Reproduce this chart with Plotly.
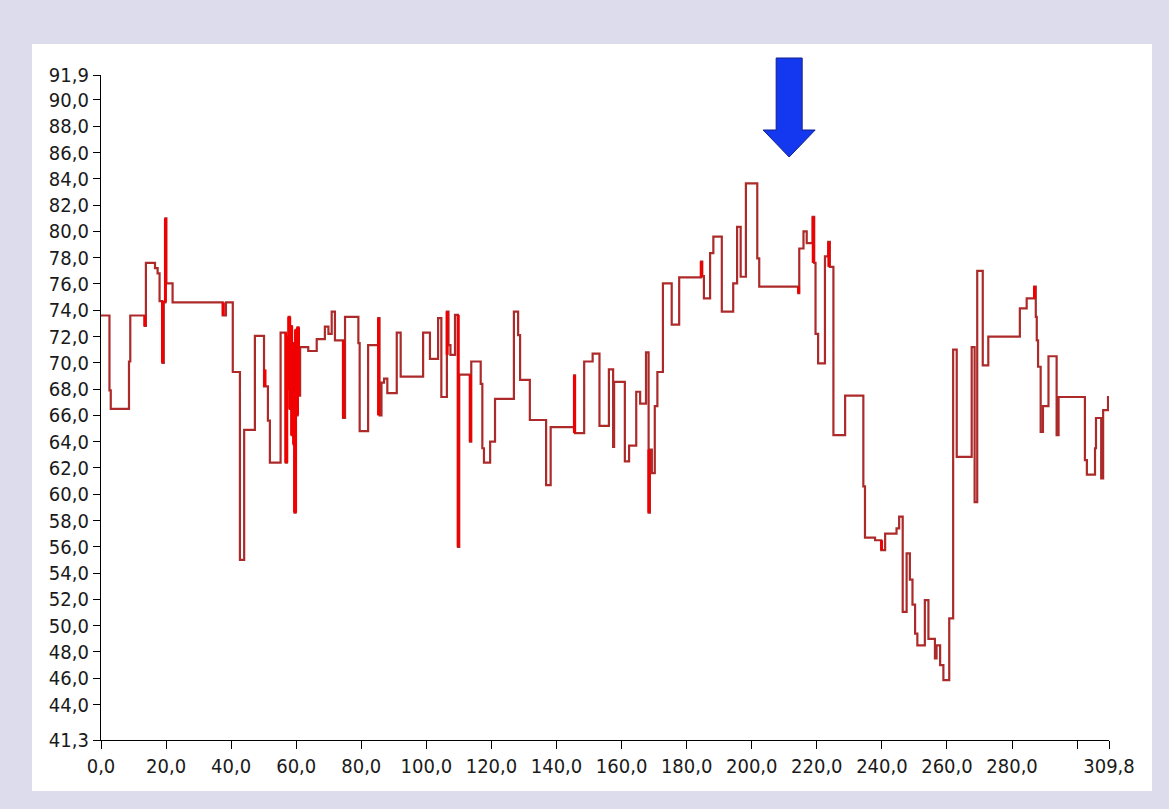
import plotly.graph_objects as go

# ---- step series (x where a level starts, level value) ----
step_x = [0.0, 2.6, 3.0, 8.6, 9.0, 13.4, 13.8, 16.6, 17.4, 18.0, 18.9, 19.3, 19.8, 20.1, 22.0,
          37.4, 38.4, 40.5, 42.7, 44.0, 47.3, 50.1, 51.3, 51.9, 55.2,
          56.8, 57.1, 57.4, 57.7, 58.0, 58.3, 58.6, 58.9, 59.2, 59.5, 59.8, 60.1, 60.4, 60.7,
          61.2, 63.7, 66.3, 68.8, 69.9, 70.9, 71.9, 74.4, 75.0, 79.1, 79.5, 82.1,
          85.2, 85.6, 86.2, 87.0, 88.0, 90.9, 92.1, 99.0, 101.1, 103.6, 104.6, 106.3, 106.8,
          107.4, 108.8, 109.7, 110.1, 113.4, 113.8, 116.7, 117.2, 117.7, 119.6, 121.1, 126.9,
          128.2, 128.8, 131.8, 136.8, 138.2, 145.4, 145.7, 148.5, 151.1, 153.2, 156.1, 157.4,
          157.7, 161.0, 162.3, 164.5, 165.7, 167.5, 168.3, 168.7, 169.3, 170.2, 171.0, 172.7,
          175.4, 177.7, 184.4, 184.8, 185.3, 187.2, 188.2, 190.8, 194.3, 195.5, 196.6, 198.2,
          201.7, 202.3, 214.3, 214.6, 215.9, 216.9, 218.7, 219.2, 219.6, 220.4, 222.5, 223.5,
          224.0, 225.1, 228.7, 234.3, 234.8, 237.9, 239.8, 241.0, 244.5, 245.3, 246.4, 247.6,
          248.6, 249.4, 250.2, 250.9, 253.2, 254.3, 256.3, 256.8, 257.9, 258.9, 260.7, 261.9,
          263.0, 267.6, 268.5, 269.3, 271.0, 272.7, 282.4, 284.5, 286.8, 287.3, 287.6, 288.0,
          288.8, 289.5, 291.2, 293.7, 294.3, 302.4, 303.0, 305.5, 305.8, 307.4, 308.0, 309.5, 309.8]
step_y = [73.6, 67.9, 66.5, 70.1, 73.6, 72.8, 77.6, 77.2, 76.8, 74.7, 70.0, 74.6, 81.0, 76.05, 74.6,
          73.6, 74.6, 69.3, 55.0, 64.9, 72.05, 68.2, 65.6, 62.4, 72.3,
          62.4, 72.0, 68.0, 73.5, 66.5, 72.8, 64.5, 71.5, 63.8, 58.6, 72.5, 66.0, 72.7, 67.5,
          71.2, 70.9, 71.8, 72.75, 72.2, 73.9, 71.7, 65.8, 73.5, 71.5, 64.8, 71.35,
          73.4, 66.0, 68.5, 68.8, 67.7, 72.3, 68.95, 72.3, 70.3, 73.4, 67.4, 73.9, 71.35,
          70.6, 73.65, 56.0, 69.1, 64.0, 70.1, 68.4, 63.5, 62.4, 64.0, 67.25, 73.9,
          72.1, 68.7, 65.65, 60.7, 65.1, 69.05, 64.65, 70.1, 70.7, 65.2, 69.5, 63.6,
          68.55, 62.5, 63.7, 67.8, 66.9, 70.8, 58.6, 63.4, 61.6, 66.7, 69.3, 76.05,
          72.9, 76.5, 77.7, 76.6, 74.9, 78.35, 79.6, 73.9, 76.05, 80.35, 76.55, 83.65,
          77.95, 75.8, 75.3, 78.7, 80.0, 79.1, 81.1, 77.6, 72.2, 69.95, 78.1, 79.2,
          77.3, 64.5, 67.5, 60.6, 56.7, 56.5, 55.75, 57.0, 57.4, 58.3, 51.05, 55.5,
          53.5, 51.6, 49.4, 48.5, 51.95, 49.0, 47.5, 48.5, 47.0, 45.85, 50.55, 71.0,
          62.85, 71.2, 59.4, 77.0, 69.8, 72.0, 74.15, 74.9, 75.8, 73.5, 71.7, 69.7,
          64.75, 66.7, 70.5, 64.5, 67.4, 62.6, 61.5, 63.5, 65.8, 61.2, 66.4, 67.4, 67.4]

# ---- bright red spikes (x, low, high) ----
spike_x = [13.5, 18.9, 19.8, 37.6, 50.4, 56.8, 57.1, 57.4, 57.7, 58.0, 58.3, 58.6, 58.9, 59.2,
           59.5, 59.8, 60.1, 60.4, 60.7, 74.5, 85.3, 106.4, 109.8, 113.5, 145.5, 168.4,
           184.5, 214.4, 218.9, 223.7, 239.9, 286.9]
spike_lo = [72.8, 70.0, 74.6, 73.6, 68.2, 62.4, 62.4, 68.0, 68.0, 66.5, 66.5, 64.5, 64.5, 63.8,
            58.6, 58.6, 66.0, 66.0, 67.5, 65.8, 66.0, 70.6, 56.0, 64.0, 64.65, 58.6,
            76.5, 75.3, 77.6, 77.3, 55.75, 74.9]
spike_hi = [73.6, 74.7, 81.0, 74.6, 69.5, 72.3, 72.0, 72.0, 73.5, 73.5, 72.8, 72.8, 71.5, 71.5,
            63.8, 72.5, 72.5, 72.7, 72.7, 71.7, 73.4, 73.9, 73.65, 69.1, 69.05, 63.4,
            77.7, 75.8, 81.1, 79.2, 56.5, 75.8]

x_min, x_max = 0.0, 309.8
y_min, y_max = 41.3, 91.9
x_tick_vals = [0, 20, 40, 60, 80, 100, 120, 140, 160, 180, 200, 220, 240, 260, 280, 300, 309.8]
x_tick_text = ["0,0", "20,0", "40,0", "60,0", "80,0", "100,0", "120,0", "140,0", "160,0",
               "180,0", "200,0", "220,0", "240,0", "260,0", "280,0", "", "309,8"]
y_tick_vals = [41.3] + list(range(44, 91, 2)) + [91.9]
y_tick_text = ["41,3"] + [f"{v},0" for v in range(44, 91, 2)] + ["91,9"]
arrow_x = 211.5  # data position marked by the arrow

BG = "#dcdcec"
W, H = 1169, 809
L, R, T, B = 101, 60, 75, 69
pw, ph = W - L - R, H - T - B


def px2paper(px, py):
    return (px - L) / pw, (H - B - py) / ph


fig = go.Figure()

fig.add_trace(go.Scatter(x=step_x, y=step_y, mode="lines", line_shape="hv",
                         line=dict(color="#ad2a2a", width=2.2), hoverinfo="skip",
                         showlegend=False))

sx, sy = [], []
for x, lo, hi in zip(spike_x, spike_lo, spike_hi):
    sx += [x, x, None]
    sy += [lo, hi, None]
fig.add_trace(go.Scatter(x=sx, y=sy, mode="lines", line=dict(color="#f00000", width=3),
                         hoverinfo="skip", showlegend=False))

# white panel
x0, y0 = px2paper(32, 791)
x1, y1 = px2paper(1152, 44)
fig.add_shape(type="rect", xref="paper", yref="paper", x0=x0, y0=y0, x1=x1, y1=y1,
              fillcolor="white", line=dict(width=0), layer="below")

# blue arrow
axp = (arrow_x - x_min) / (x_max - x_min)
cx = L + axp * pw
pts = [(cx - 13, 58), (cx + 13, 58), (cx + 13, 130), (cx + 26, 130), (cx, 157),
       (cx - 26, 130), (cx - 13, 130)]
path = "M " + " L ".join(f"{px2paper(a, b)[0]:.5f},{px2paper(a, b)[1]:.5f}" for a, b in pts) + " Z"
fig.add_shape(type="path", xref="paper", yref="paper", path=path,
              fillcolor="#1438f0", line=dict(color="#10208a", width=1))

font = dict(family="Liberation Sans Narrow, Arial Narrow, DejaVu Sans Condensed, sans-serif",
            size=20, color="#1a1a1a")

fig.update_xaxes(range=[x_min, x_max], tickvals=x_tick_vals, ticktext=x_tick_text,
                 showgrid=False, zeroline=False, showline=True, linecolor="black", linewidth=1.3,
                 ticks="outside", ticklen=8, tickcolor="black", tickwidth=1.3, tickfont=font)
fig.update_yaxes(range=[y_min, y_max], tickvals=y_tick_vals, ticktext=y_tick_text,
                 showgrid=False, zeroline=False, showline=True, linecolor="black", linewidth=1.3,
                 ticks="outside", ticklen=7, tickcolor="black", tickwidth=1.3, tickfont=font)

fig.update_layout(width=W, height=H, margin=dict(l=L, r=R, t=T, b=B),
                  paper_bgcolor=BG, plot_bgcolor="white", showlegend=False)

fig.write_html("out.html", config={"displayModeBar": False},
               post_script=f"document.body.style.margin='0px';"
                           f"document.body.style.background='{BG}';")
